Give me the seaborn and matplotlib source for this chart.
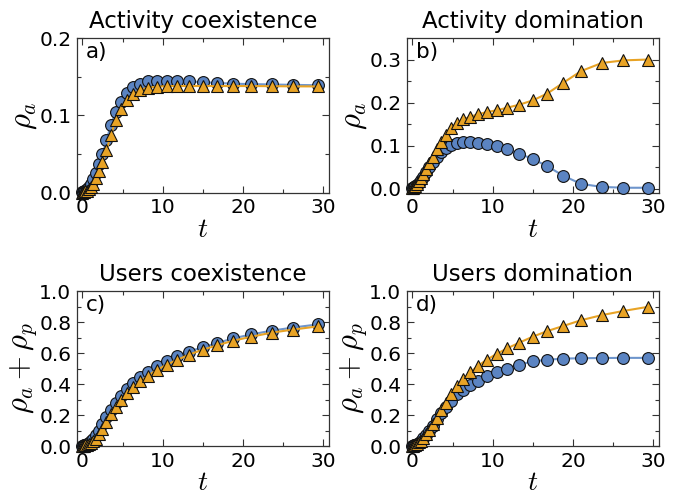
import matplotlib
matplotlib.use("Agg")
import matplotlib.pyplot as plt
import seaborn as sns
import numpy as np
from matplotlib.ticker import AutoMinorLocator

# time points of the markers
t = [0.0, 0.1, 0.2, 0.35, 0.55, 0.8, 1.05, 1.35, 1.7, 2.1, 2.5, 3.0, 3.55, 4.15,
     4.8, 5.55, 6.35, 7.2, 8.2, 9.3, 10.5, 11.8, 13.3, 15.0, 16.8, 18.8, 21.0,
     23.6, 26.3, 29.3]

# a) Activity coexistence
a_blue = [0.001, 0.0015, 0.002, 0.003, 0.005, 0.008, 0.012, 0.018, 0.026, 0.037,
          0.050, 0.068, 0.088, 0.104, 0.118, 0.129, 0.137, 0.141, 0.144, 0.145,
          0.145, 0.1445, 0.144, 0.143, 0.142, 0.141, 0.1405, 0.140, 0.1395, 0.139]
a_orange = [0.0005, 0.001, 0.0015, 0.002, 0.003, 0.005, 0.008, 0.012, 0.019, 0.028,
            0.040, 0.055, 0.075, 0.094, 0.108, 0.120, 0.128, 0.133, 0.136, 0.137,
            0.138, 0.138, 0.138, 0.138, 0.138, 0.138, 0.138, 0.1378, 0.1376, 0.1375]

# b) Activity domination
b_blue = [0.001, 0.002, 0.003, 0.006, 0.009, 0.014, 0.020, 0.028, 0.038, 0.050,
          0.061, 0.074, 0.085, 0.094, 0.101, 0.106, 0.108, 0.108, 0.106, 0.103,
          0.098, 0.091, 0.081, 0.069, 0.052, 0.030, 0.011, 0.004, 0.002, 0.002]
b_orange = [0.001, 0.002, 0.004, 0.007, 0.011, 0.017, 0.025, 0.034, 0.046, 0.060,
            0.074, 0.091, 0.108, 0.125, 0.140, 0.153, 0.161, 0.167, 0.173, 0.178,
            0.182, 0.188, 0.195, 0.205, 0.221, 0.246, 0.273, 0.292, 0.298, 0.300]

# c) Users coexistence
c_blue = [0.001, 0.002, 0.004, 0.007, 0.012, 0.020, 0.030, 0.045, 0.068, 0.100,
          0.140, 0.190, 0.235, 0.280, 0.325, 0.368, 0.405, 0.443, 0.480, 0.515,
          0.548, 0.578, 0.610, 0.638, 0.665, 0.695, 0.720, 0.745, 0.765, 0.785]
c_orange = [0.0005, 0.001, 0.002, 0.004, 0.007, 0.012, 0.019, 0.030, 0.048, 0.075,
            0.110, 0.158, 0.205, 0.250, 0.295, 0.340, 0.380, 0.418, 0.455, 0.492,
            0.525, 0.556, 0.590, 0.622, 0.650, 0.680, 0.705, 0.732, 0.752, 0.772]

# d) Users domination
d_blue = [0.001, 0.003, 0.005, 0.008, 0.013, 0.022, 0.034, 0.050, 0.072, 0.100,
          0.132, 0.172, 0.212, 0.252, 0.292, 0.333, 0.364, 0.392, 0.420, 0.450,
          0.476, 0.500, 0.526, 0.546, 0.557, 0.564, 0.567, 0.568, 0.569, 0.569]
d_orange = [0.001, 0.003, 0.005, 0.008, 0.014, 0.023, 0.035, 0.052, 0.075, 0.105,
            0.140, 0.183, 0.230, 0.280, 0.333, 0.385, 0.433, 0.476, 0.519, 0.558,
            0.595, 0.630, 0.667, 0.706, 0.742, 0.775, 0.812, 0.845, 0.872, 0.898]

titles = ["Activity coexistence", "Activity domination",
          "Users coexistence", "Users domination"]
panel_labels = ["a)", "b)", "c)", "d)"]
ylabels = [r"$\rho_a$", r"$\rho_a$", r"$\rho_a + \rho_p$", r"$\rho_a + \rho_p$"]
ylims = [(0, 0.2), (-0.01, 0.35), (0, 1.0), (0, 1.0)]
yticks = [[0.0, 0.1, 0.2], [0.0, 0.1, 0.2, 0.3],
          [0.0, 0.2, 0.4, 0.6, 0.8, 1.0], [0.0, 0.2, 0.4, 0.6, 0.8, 1.0]]
xticks = [0, 10, 20, 30]

series = [(a_blue, a_orange), (b_blue, b_orange), (c_blue, c_orange), (d_blue, d_orange)]

sns.set_style("ticks")
plt.rcParams["font.family"] = ["DejaVu Sans"]
plt.rcParams["mathtext.fontset"] = "cm"
plt.rcParams["xtick.direction"] = "in"
plt.rcParams["ytick.direction"] = "in"
plt.rcParams["text.color"] = "black"
plt.rcParams["axes.labelcolor"] = "black"
plt.rcParams["xtick.labelcolor"] = "black"
plt.rcParams["ytick.labelcolor"] = "black"

BLUE = "#5b84c2"
BLUE_LINE = "#6e95cc"
ORANGE = "#e8a325"
SPINE = "#333333"

fig, axes = plt.subplots(2, 2, figsize=(6.92, 4.97), dpi=100)
fig.subplots_adjust(left=0.111, right=0.952, top=0.9235, bottom=0.1026,
                    wspace=0.31, hspace=0.634)

for i, ax in enumerate(axes.flat):
    yb, yo = series[i]
    sns.lineplot(x=t, y=yb, ax=ax, color=BLUE_LINE, marker="o", markersize=8.5,
                 markerfacecolor=BLUE, markeredgecolor="#111111", markeredgewidth=0.8,
                 linewidth=1.5, clip_on=False, zorder=3)
    sns.lineplot(x=t, y=yo, ax=ax, color=ORANGE, marker="^", markersize=9,
                 markerfacecolor=ORANGE, markeredgecolor="#111111", markeredgewidth=0.8,
                 linewidth=1.5, clip_on=False, zorder=4)
    ax.set_xlim(-0.7, 30.7)
    ax.set_ylim(*ylims[i])
    ax.set_xticks(xticks)
    ax.set_yticks(yticks[i])
    ax.xaxis.set_minor_locator(AutoMinorLocator(2))
    ax.yaxis.set_minor_locator(AutoMinorLocator(2))
    ax.tick_params(which="both", top=True, right=True, direction="in",
                   labelsize=14.5, color=SPINE, labelcolor="black", pad=4)
    ax.tick_params(which="major", length=5, width=0.8)
    ax.tick_params(which="minor", length=3, width=0.8)
    for s in ax.spines.values():
        s.set_color(SPINE)
        s.set_linewidth(0.9)
    ax.set_title(titles[i], fontsize=16.5, pad=7, color="black")
    ax.set_xlabel(r"$t$", fontsize=20, labelpad=-2)
    ax.set_ylabel(ylabels[i], fontsize=22, labelpad=0)
    ax.text(0.035, 0.975, panel_labels[i], transform=ax.transAxes,
            fontsize=15.5, va="top", ha="left", color="black")

fig.savefig("out.png", dpi=100)
